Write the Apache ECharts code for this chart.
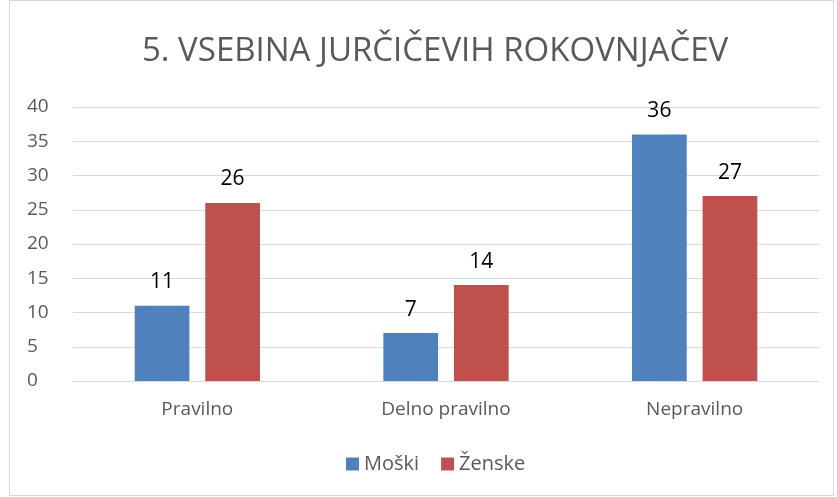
<!DOCTYPE html>
<html>
<head>
<meta charset="utf-8">
<script src="https://cdn.jsdelivr.net/npm/echarts@6/dist/echarts.min.js"></script>
<style>
  html, body { margin: 0; padding: 0; background: #fff; }
  #chart { width: 837px; height: 497px; }
</style>
</head>
<body>
<div id="chart"></div>
<script>
var categories = ['Pravilno', 'Delno pravilno', 'Nepravilno'];
var moski = [11, 7, 36];
var zenske = [26, 14, 27];
var yTicks = [0, 5, 10, 15, 20, 25, 30, 35, 40];

var font = 'Open Sans, Liberation Sans, sans-serif';

var myChart = echarts.init(document.getElementById('chart'));

var option = {
  backgroundColor: '#fff',
  animation: false,
  title: {
    text: '5. VSEBINA JURČIČEVIH ROKOVNJAČEV',
    left: 137,
    top: 30,
    textStyle: { fontFamily: font, fontSize: 33, fontWeight: 'normal', color: '#595959' }
  },
  graphic: [{
    type: 'rect',
    shape: { x: 9.5, y: 0.5, width: 824, height: 495 },
    style: { fill: 'none', stroke: '#d9d9d9', lineWidth: 1 }
  }],
  grid: { left: 73, right: 18, top: 107, bottom: 116 },
  legend: {
    data: ['Moški', 'Ženske'],
    bottom: 18,
    left: 341,
    itemWidth: 13,
    itemHeight: 13,
    itemGap: 22,
    icon: 'rect',
    textStyle: { fontFamily: font, fontSize: 20, color: '#595959' }
  },
  xAxis: {
    type: 'category',
    data: categories,
    axisTick: { show: false },
    axisLine: { lineStyle: { color: '#d9d9d9' } },
    axisLabel: { fontFamily: font, fontSize: 19, color: '#595959', margin: 19 }
  },
  yAxis: {
    type: 'value',
    min: yTicks[0],
    max: yTicks[yTicks.length - 1],
    interval: 5,
    axisLine: { show: false },
    axisTick: { show: false },
    splitLine: { lineStyle: { color: '#d9d9d9' } },
    axisLabel: { fontFamily: font, fontSize: 19, color: '#595959', margin: 46, align: 'left' }
  },
  series: [
    {
      name: 'Moški',
      type: 'bar',
      data: moski,
      barWidth: '22%',
      barGap: '29%',
      itemStyle: { color: '#4F81BD' },
      label: { show: true, position: 'top', distance: 13, fontFamily: font, fontSize: 21, color: '#000' }
    },
    {
      name: 'Ženske',
      type: 'bar',
      data: zenske,
      barWidth: '22%',
      itemStyle: { color: '#C0504D' },
      label: { show: true, position: 'top', distance: 13, fontFamily: font, fontSize: 21, color: '#000' }
    }
  ]
};

myChart.setOption(option);
</script>
</body>
</html>
